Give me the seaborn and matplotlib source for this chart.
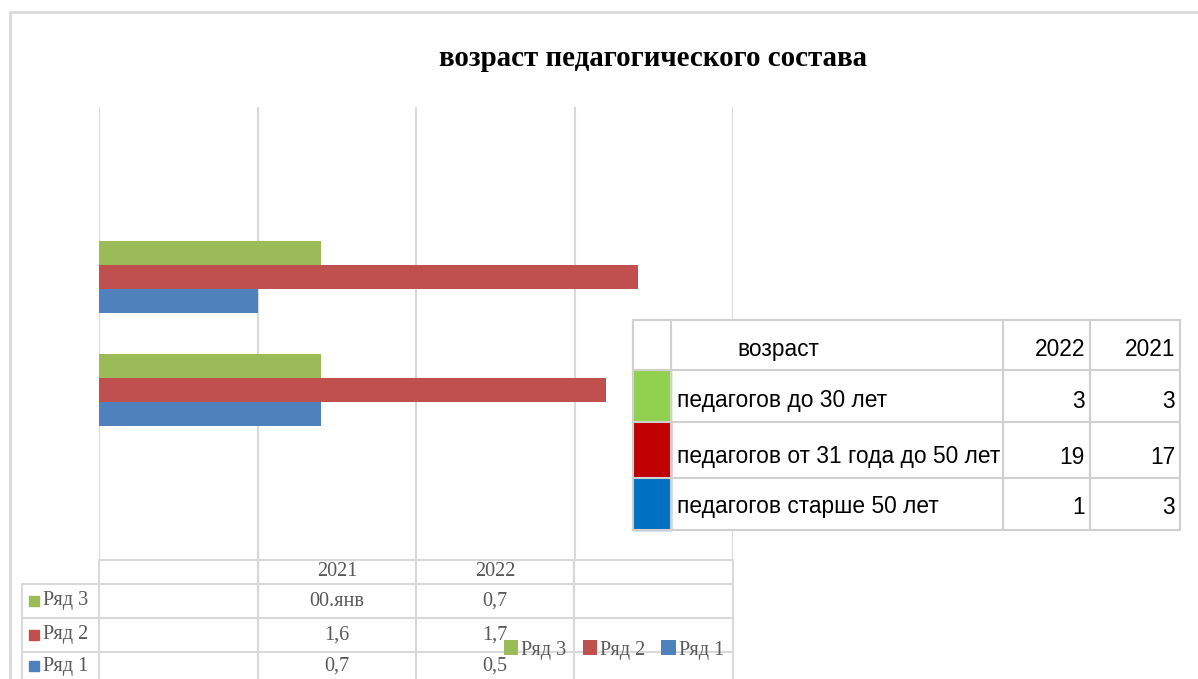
import matplotlib
matplotlib.use("Agg")
import matplotlib.pyplot as plt
from matplotlib.lines import Line2D
from matplotlib.patches import Rectangle, Patch
import seaborn as sns
import pandas as pd

# ---------------- data ----------------
categories = ["2021", "2022"]
series = ["Ряд 1", "Ряд 2", "Ряд 3"]
ryad1 = [0.7, 0.5]
ryad2 = [1.6, 1.7]
ryad3 = [0.7, 0.7]
# labels as displayed in the chart's data table
table_ryad1 = ["0,7", "0,5"]
table_ryad2 = ["1,6", "1,7"]
table_ryad3 = ["00.янв", "0,7"]

age_groups = ["педагогов до 30 лет", "педагогов от 31 года до 50 лет", "педагогов старше 50 лет"]
age_2022 = [3, 19, 1]
age_2021 = [3, 17, 3]
age_colors = ["#92D050", "#C00000", "#0070C0"]

title = "возраст педагогического состава"
series_colors = {"Ряд 1": "#4F81BD", "Ряд 2": "#C0504D", "Ряд 3": "#9BBB59"}

# ---------------- figure ----------------
W, H = 1198, 679
sns.set_theme(style="white")
plt.rcParams["font.family"] = ["Liberation Serif", "DejaVu Serif"]
fig = plt.figure(figsize=(W / 100, H / 100), dpi=100)
fig.patch.set_facecolor("white")


def fx(x):
    return x / W


def fy(y):
    return 1 - y / H


GRID = "#D9D9D9"
TXT = "#595959"

# plot area
x0, x1, y0, y1 = 99, 733, 107, 560
ax = fig.add_axes([fx(x0), fy(y1), fx(x1) - fx(x0), (y1 - y0) / H])

rows = []
for s, vals in zip(series, [ryad1, ryad2, ryad3]):
    for c, v in zip(categories, vals):
        rows.append({"cat": c, "series": s, "value": v})
df = pd.DataFrame(rows)

order = ["top", "2022", "2021", "bottom"]
sns.barplot(data=df, y="cat", x="value", hue="series", order=order,
            hue_order=["Ряд 3", "Ряд 2", "Ряд 1"], palette=series_colors,
            orient="h", width=0.64, gap=0, saturation=1, errorbar=None,
            legend=False, ax=ax, edgecolor="none", linewidth=0)
ax.set_xlim(0, 2)
ax.set_ylim(3.5, -0.5)
ax.set_xticks([0, 0.5, 1, 1.5, 2])
ax.grid(axis="x", color=GRID, linewidth=1.5)
ax.grid(axis="y", visible=False)
ax.set_axisbelow(True)
for sp in ax.spines.values():
    sp.set_visible(False)
ax.tick_params(left=False, bottom=False, labelleft=False, labelbottom=False)
ax.set_xlabel("")
ax.set_ylabel("")


def line(xa, ya, xb, yb, lw=1.5, color=GRID):
    fig.add_artist(Line2D([fx(xa), fx(xb)], [fy(ya), fy(yb)], color=color,
                          linewidth=lw, transform=fig.transFigure))


# outer chart frame
line(10, 12, W, 12, lw=2)
line(10, 12, 10, H, lw=2)

# bottom data table
col_x = [99, 258, 416, 574, 733]
for x in col_x:
    line(x, 560, x, H)
line(22, 584, 22, H)
line(99, 560, 733, 560)
for y in [584, 618, 652]:
    line(22, y, 733, y)

col_centers = [337, 495]
for c, xc in zip(categories, col_centers):
    fig.text(fx(xc), fy(572), c, ha="center", va="center", fontsize=14.6, color=TXT)

row_y = [601, 635, 666]
for name, labs, yy in zip(["Ряд 3", "Ряд 2", "Ряд 1"],
                          [table_ryad3, table_ryad2, table_ryad1], row_y):
    fig.add_artist(Rectangle((fx(29), fy(yy + 5)), 10 / W, 10 / H,
                             color=series_colors[name], transform=fig.transFigure))
    fig.text(fx(43), fy(yy), name, ha="left", va="center", fontsize=14.6, color=TXT)
    for lab, xc in zip(labs, col_centers):
        fig.text(fx(xc), fy(yy), lab, ha="center", va="center", fontsize=14.6, color=TXT)

# series legend
handles = [Patch(facecolor=series_colors[s], edgecolor="none") for s in ["Ряд 3", "Ряд 2", "Ряд 1"]]
leg = fig.legend(handles, ["Ряд 3", "Ряд 2", "Ряд 1"], loc="center",
                 bbox_to_anchor=(fx(614), fy(650)), ncol=3, frameon=False,
                 handlelength=0.7, handleheight=0.7, handletextpad=0.15,
                 columnspacing=0.8, prop={"size": 14.6, "family": "Liberation Serif"})
for t in leg.get_texts():
    t.set_color(TXT)

# title
fig.text(fx(653), fy(59), title, ha="center", va="center", fontsize=20.9,
         fontweight="bold", color="black")

# right-hand table
TB = "#D0D0D0"
tx0, tx1 = 633, 1180
ty = [320, 370, 422, 478, 530]
tcols = [633, 671, 1003, 1090, 1180]
for i, c in enumerate(age_colors):
    fig.add_artist(Rectangle((fx(633), fy(ty[i + 2])), (671 - 633) / W,
                             (ty[i + 2] - ty[i + 1]) / H, color=c,
                             transform=fig.transFigure, zorder=3))
fig.add_artist(Rectangle((fx(633), fy(530)), (1180 - 633) / W, (530 - 320) / H,
                         facecolor="white", edgecolor="none",
                         transform=fig.transFigure, zorder=2))
for y in ty:
    fig.add_artist(Line2D([fx(tx0), fx(tx1)], [fy(y), fy(y)], color=TB, linewidth=1.5,
                          transform=fig.transFigure, zorder=4))
for x in tcols:
    fig.add_artist(Line2D([fx(x), fx(x)], [fy(320), fy(530)], color=TB, linewidth=1.5,
                          transform=fig.transFigure, zorder=4))

tfont = {"family": ["Liberation Sans", "DejaVu Sans"], "size": 16.4}
fig.text(fx(737), fy(350), "возраст", ha="left", va="center", color="black", zorder=5, **tfont)
fig.text(fx(1085), fy(350), "2022", ha="right", va="center", color="black", zorder=5, **tfont)
fig.text(fx(1175), fy(350), "2021", ha="right", va="center", color="black", zorder=5, **tfont)
text_y = [401, 457, 507]
for g, a, b, yy in zip(age_groups, age_2022, age_2021, text_y):
    fig.text(fx(677), fy(yy), g, ha="left", va="center", color="black", zorder=5, **tfont)
    fig.text(fx(1085), fy(yy), str(a), ha="right", va="center", color="black", zorder=5, **tfont)
    fig.text(fx(1175), fy(yy), str(b), ha="right", va="center", color="black", zorder=5, **tfont)

fig.savefig("out.png", dpi=100, facecolor="white")
